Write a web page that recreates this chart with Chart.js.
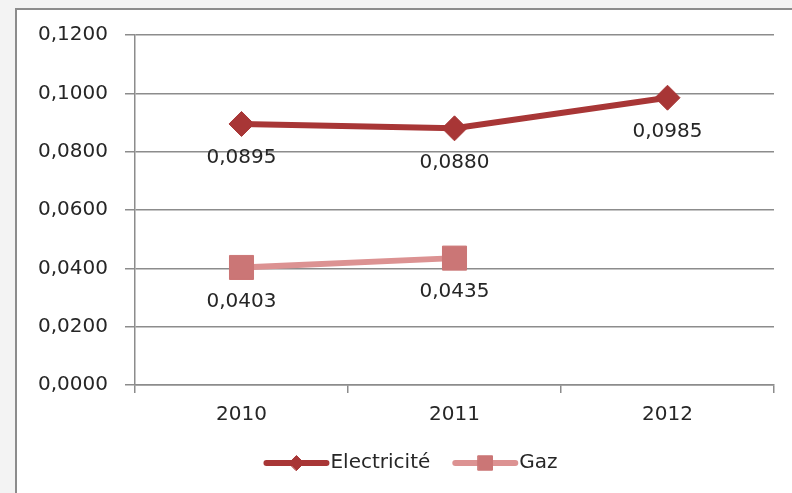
<!DOCTYPE html>
<html>
<head>
<meta charset="utf-8">
<script src="https://cdn.jsdelivr.net/npm/chart.js@4"></script>
<style>
    body {
        margin: 0;
        background: #f3f3f3;
        width: 792px;
        height: 493px;
        overflow: hidden;
        position: relative;
    }
    #frame {
        position: absolute;
        left: 15px;
        top: 8px;
        width: 800px;
        height: 520px;
        background: #ffffff;
        border: 2px solid #8c8c8c;
    }
    #myChart {
        position: absolute;
        left: 0;
        top: 0;
    }
</style>
</head>
<body>
<div id="frame"></div>
<canvas id="myChart" width="792" height="493"></canvas>

<script>
// values
const years = ['2010', '2011', '2012'];
const electricite = [0.0895, 0.0880, 0.0985];
const gaz = [0.0403, 0.0435, null];
const yTicks = [0, 0.02, 0.04, 0.06, 0.08, 0.10, 0.12];

const elecColor = '#a83636';
const gazColor = '#dc9292';
const gazMarker = '#cb7676';
const gridColor = '#8c8c8c';
const textColor = '#262626';
const font = { family: 'DejaVu Sans', size: 20 };

const fmt = v => v.toFixed(4).replace('.', ',');

// value labels under each point
const valueLabels = {
    id: 'valueLabels',
    afterDatasetsDraw(chart) {
        const ctx = chart.ctx;
        ctx.save();
        ctx.font = font.size + 'px ' + font.family;
        ctx.fillStyle = textColor;
        ctx.textAlign = 'center';
        ctx.textBaseline = 'middle';
        chart.data.datasets.forEach((ds, i) => {
            chart.getDatasetMeta(i).data.forEach((pt, j) => {
                if (ds.data[j] == null) return;
                ctx.fillText(fmt(ds.data[j]), pt.x, pt.y + 34);
            });
        });
        ctx.restore();
    }
};

// legend drawn as line + marker, like the original
const lineLegend = {
    id: 'lineLegend',
    afterDraw(chart, args, opts) {
        const ctx = chart.ctx;
        ctx.save();
        ctx.font = font.size + 'px ' + font.family;
        const items = chart.data.datasets.map(ds => ({
            ds: ds,
            w: opts.lineLen + opts.gap + ctx.measureText(ds.label).width
        }));
        const total = items.reduce((s, it) => s + it.w, 0) + opts.spacing * (items.length - 1);
        let x = opts.center - total / 2;
        const y = opts.y;
        items.forEach(it => {
            ctx.strokeStyle = it.ds.borderColor;
            ctx.lineWidth = it.ds.borderWidth;
            ctx.lineCap = 'round';
            ctx.beginPath();
            ctx.moveTo(x, y);
            ctx.lineTo(x + opts.lineLen, y);
            ctx.stroke();
            ctx.fillStyle = it.ds.pointBackgroundColor;
            ctx.strokeStyle = it.ds.pointBackgroundColor;
            ctx.lineWidth = 1;
            Chart.helpers.drawPoint(ctx, {
                pointStyle: it.ds.pointStyle,
                radius: it.ds.pointRadius * 0.6,
                borderWidth: 1
            }, x + opts.lineLen / 2, y);
            ctx.fillStyle = textColor;
            ctx.textAlign = 'left';
            ctx.textBaseline = 'middle';
            ctx.fillText(it.ds.label, x + opts.lineLen + opts.gap, y);
            x += it.w + opts.spacing;
        });
        ctx.restore();
    }
};

const ctx = document.getElementById('myChart').getContext('2d');
const myChart = new Chart(ctx, {
    type: 'line',
    data: {
        labels: years,
        datasets: [
            {
                label: 'Electricité',
                data: electricite,
                borderColor: elecColor,
                backgroundColor: elecColor,
                borderWidth: 6,
                pointStyle: 'rectRot',
                pointRadius: 12.5,
                pointBackgroundColor: elecColor,
                pointBorderColor: elecColor,
                pointBorderWidth: 1,
                tension: 0
            },
            {
                label: 'Gaz',
                data: gaz,
                borderColor: gazColor,
                backgroundColor: gazColor,
                borderWidth: 6,
                pointStyle: 'rect',
                pointRadius: 17,
                pointBackgroundColor: gazMarker,
                pointBorderColor: gazMarker,
                pointBorderWidth: 1,
                tension: 0
            }
        ]
    },
    options: {
        responsive: false,
        animation: false,
        layout: {
            padding: { left: 0, top: 35, right: 17, bottom: 0 }
        },
        scales: {
            x: {
                type: 'category',
                offset: true,
                grid: {
                    offset: true,
                    drawOnChartArea: false,
                    drawTicks: true,
                    tickLength: 8,
                    color: gridColor,
                    lineWidth: 1.5
                },
                border: { display: true, color: gridColor, width: 1.5 },
                ticks: { color: textColor, font: font, padding: 10, maxRotation: 0 },
                afterFit: scale => { scale.height = 108; }
            },
            y: {
                min: 0,
                max: 0.12,
                afterBuildTicks: scale => { scale.ticks = yTicks.map(v => ({ value: v })); },
                grid: {
                    color: gridColor,
                    lineWidth: 1.5,
                    drawTicks: true,
                    tickLength: 10
                },
                border: { display: true, color: gridColor, width: 1.5 },
                ticks: {
                    color: textColor,
                    font: font,
                    padding: 17,
                    callback: v => fmt(v)
                },
                afterFit: scale => { scale.width = 135; }
            }
        },
        plugins: {
            legend: { display: false },
            tooltip: { enabled: false },
            lineLegend: { center: 412, y: 463, lineLen: 60, gap: 4, spacing: 25 }
        }
    },
    plugins: [valueLabels, lineLegend]
});
</script>
</body>
</html>
